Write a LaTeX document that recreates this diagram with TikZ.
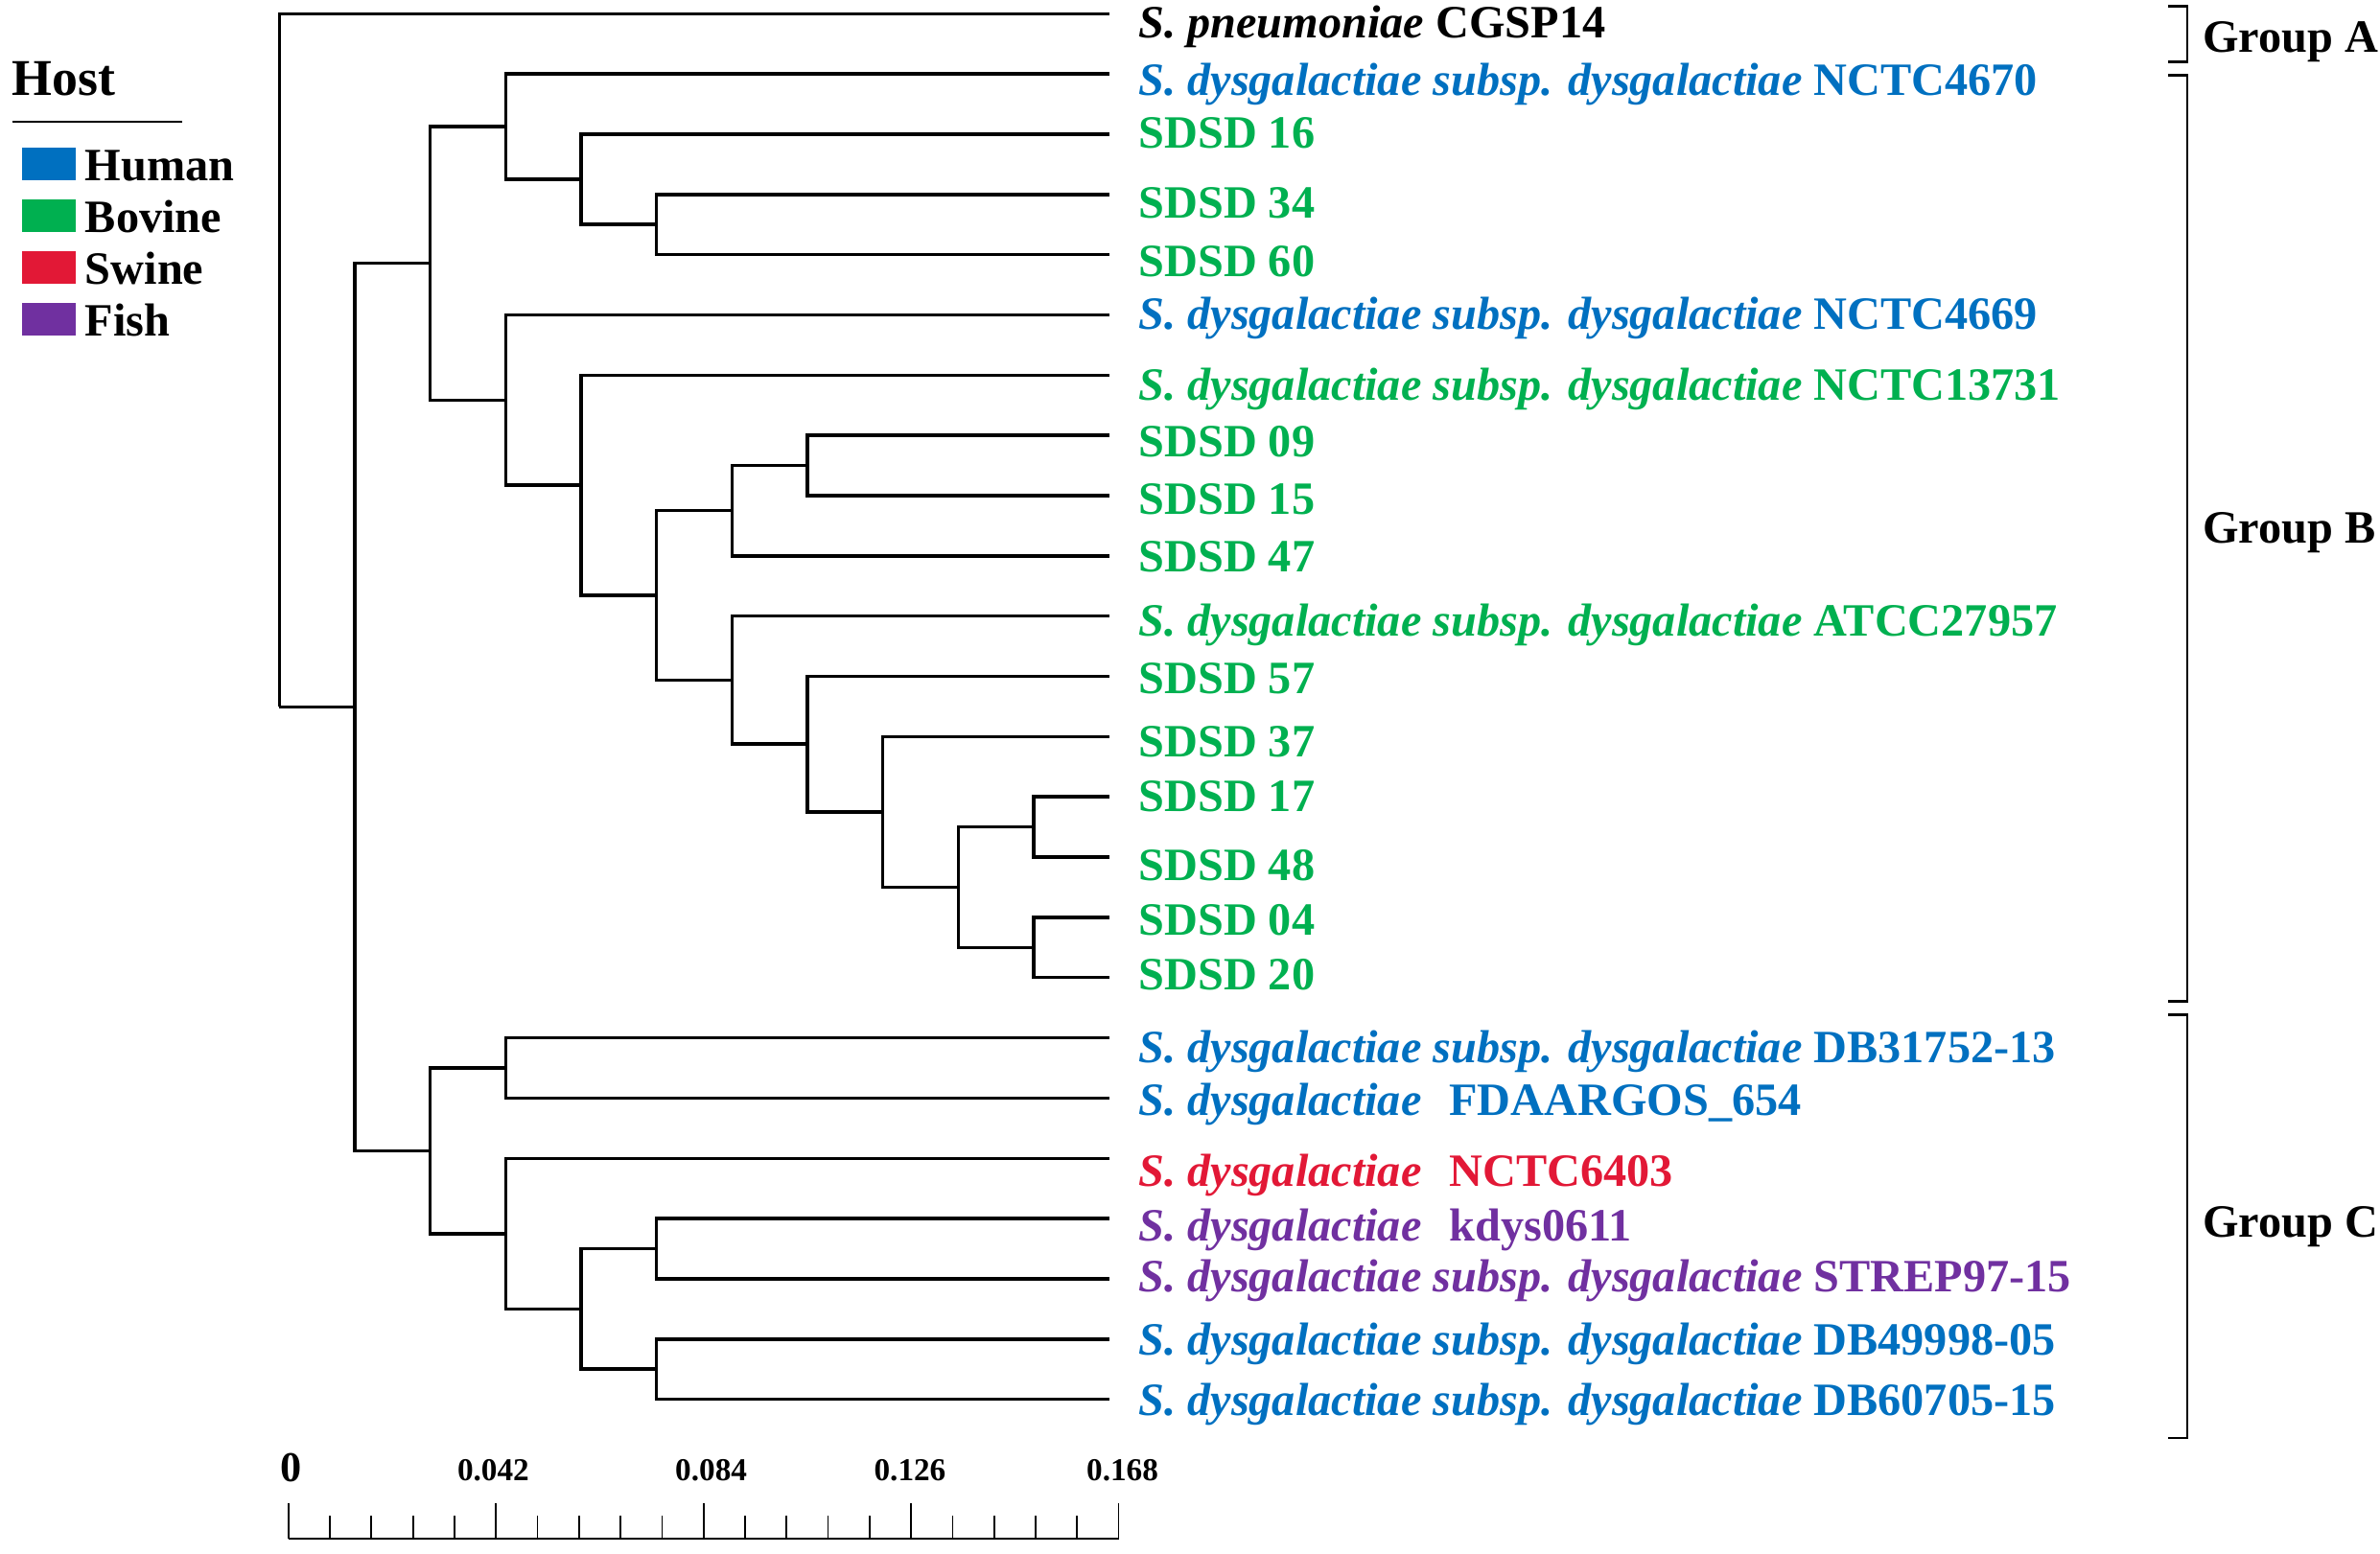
\documentclass[tikz,border=0pt]{standalone}
\usepackage{fontspec}
\setmainfont{Liberation Serif}
\definecolor{human}{RGB}{0,112,192}
\definecolor{bovine}{RGB}{0,176,80}
\definecolor{swine}{RGB}{226,24,54}
\definecolor{fish}{RGB}{112,48,160}
\newcommand{\sdys}{\textit{S. dysgalactiae}}
\newcommand{\sdsub}{\textit{S. dysgalactiae subsp. dysgalactiae}}
\newcommand{\bigfont}{\fontsize{30.5}{36}\selectfont\bfseries}
\begin{document}
\begin{tikzpicture}[x=1pt,y=-1pt]
\tikzstyle{branch}=[line width=2.2pt]
\tikzstyle{leaf}=[anchor=base west,inner sep=0pt,font=\bigfont]
\tikzstyle{keybox}=[anchor=south west,minimum width=35.5pt,minimum height=21.5pt,inner sep=0pt]
\tikzstyle{bracket}=[line width=1.8pt]
\tikzstyle{scalelab}=[anchor=base,inner sep=0pt,font=\fontsize{21}{24}\selectfont\bfseries]
\useasboundingbox (0,0) rectangle (1568,1023.5);

% legend
\node[anchor=base west,inner sep=0pt,font=\fontsize{34}{40}\selectfont\bfseries] (host) at (8,62.7) {Host};
\draw[line width=1.5pt] (8,80.4) -- (120,80.4);
\foreach \n/\y/\c in {Human/118.8/human, Bovine/153/bovine, Swine/187.4/swine, Fish/221.3/fish}{
  \node[keybox,fill=\c] (key\n) at (14.5,\y) {};
  \node[leaf] (lab\n) at (56,\y) {\n};
}

% leaves: end of branch and label
\foreach \i/\b/\c/\txt in {
  0/24.8/black/{\textit{S. pneumoniae} CGSP14},
  1/62.7/human/{\sdsub{} NCTC4670},
  2/97.3/bovine/{SDSD 16},
  3/144/bovine/{SDSD 34},
  4/182/bovine/{SDSD 60},
  5/217/human/{\sdsub{} NCTC4669},
  6/264/bovine/{\sdsub{} NCTC13731},
  7/301/bovine/{SDSD 09},
  8/339/bovine/{SDSD 15},
  9/377/bovine/{SDSD 47},
  10/419/bovine/{\sdsub{} ATCC27957},
  11/457/bovine/{SDSD 57},
  12/499/bovine/{SDSD 37},
  13/535/bovine/{SDSD 17},
  14/580/bovine/{SDSD 48},
  15/616.5/bovine/{SDSD 04},
  16/652.5/bovine/{SDSD 20},
  17/700/human/{\sdsub{} DB31752-13},
  18/735/human/{\sdys\hspace{0.6em}FDAARGOS\_654},
  19/782/swine/{\sdys\hspace{0.6em}NCTC6403},
  20/818/fish/{\sdys\hspace{0.6em}kdys0611},
  21/851/fish/{\sdsub{} STREP97-15},
  22/893/human/{\sdsub{} DB49998-05},
  23/933/human/{\sdsub{} DB60705-15}}
{
  \coordinate (l\i) at (730.7,{9+39.7*\i});
  \node[leaf,text=\c] (t\i) at (750,\b) {\txt};
}

% internal nodes
\foreach \n/\x/\y in {root/184/465.9, a/233.7/465.9,
  b/283.4/173.55, c/283.4/758.3,
  b1/333.1/83.45, b1a/382.8/118.2, b1b/432.5/147.95,
  b2/333.1/263.65, b2a/382.8/319.8, b2b/432.5/392.35,
  b2c/482.2/336.5, b2e/531.9/306.75,
  b2d/482.2/448.2, b2f/531.9/490.35, b2g/581.6/535,
  b2h/631.3/584.65, b2i/681/544.95, b2j/681/624.35,
  c1/333.1/703.75, c2/333.1/812.9, c2a/382.8/862.55,
  c2b/432.5/822.85, c2c/432.5/902.25}
  \coordinate (\n) at (\x,\y);

% branches
\foreach \p/\q in {root/l0, root/a, a/b, a/c,
  b/b1, b/b2, b1/l1, b1/b1a, b1a/l2, b1a/b1b, b1b/l3, b1b/l4,
  b2/l5, b2/b2a, b2a/l6, b2a/b2b, b2b/b2c, b2b/b2d,
  b2c/b2e, b2c/l9, b2e/l7, b2e/l8,
  b2d/l10, b2d/b2f, b2f/l11, b2f/b2g, b2g/l12, b2g/b2h,
  b2h/b2i, b2h/b2j, b2i/l13, b2i/l14, b2j/l15, b2j/l16,
  c/c1, c/c2, c1/l17, c1/l18, c2/l19, c2/c2a,
  c2a/c2b, c2a/c2c, c2b/l20, c2b/l21, c2c/l22, c2c/l23}
  \draw[branch] (\p) |- (\q);

% groups
\draw[bracket] (1428.5,4.2) -- (1441,4.2) -- (1441,41) -- (1428.5,41);
\draw[bracket] (1428.5,49.5) -- (1441,49.5) -- (1441,659.6) -- (1428.5,659.6);
\draw[bracket] (1428.5,668.5) -- (1441,668.5) -- (1441,947.6) -- (1428.5,947.6);
\node[leaf] (grpA) at (1451,34.7) {Group A};
\node[leaf] (grpB) at (1451,358) {Group B};
\node[leaf] (grpC) at (1451,815) {Group C};

% scale bar
\draw[line width=1.6pt] (190,1014) -- (737,1014);
\foreach \k in {0,...,20}{
  \pgfmathsetmacro\tk{ifthenelse(mod(\k,5)==0,990.5,999)}
  \draw[line width=1.1pt] ({190+27.35*\k},1014) -- ({190+27.35*\k},\tk);
}
\node[scalelab,font=\fontsize{28}{32}\selectfont\bfseries] (s0) at (192,976.6) {0};
\node[scalelab] (s1) at (325,976) {0.042};
\node[scalelab] (s2) at (468.5,976) {0.084};
\node[scalelab] (s3) at (599.5,976) {0.126};
\node[scalelab] (s4) at (739.5,976) {0.168};
\end{tikzpicture}
\end{document}
